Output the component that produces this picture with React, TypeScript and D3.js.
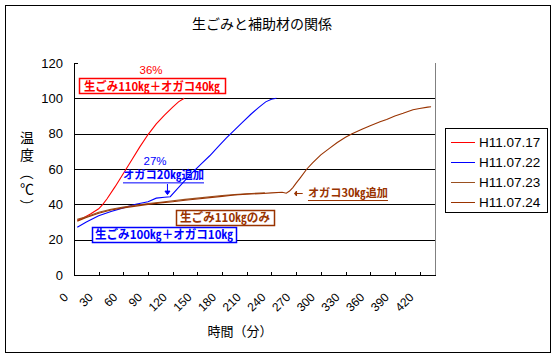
import React from "react";
import * as d3 from "d3";

const seriesNames = ["H11.07.17", "H11.07.22", "H11.07.23", "H11.07.24"];
const seriesColors = ["#FF0000", "#0000FF", "#9A5020", "#993300"];

const red17: [number, number][] = [
  [4, 31], [10, 32], [20, 34.5], [30, 37.5], [35, 40], [40, 43], [50, 50], [60, 57.5],
  [70, 65], [80, 72.5], [90, 79.5], [100, 85.5], [110, 90.5], [120, 95], [127, 98], [134, 100],
];
const blue22: [number, number][] = [
  [4, 27], [15, 30], [30, 33.5], [45, 36], [60, 38], [75, 40], [90, 41.5], [100, 43.5],
  [110, 44], [117, 44.3], [125, 48.5], [135, 53.5], [145, 58.5], [155, 63], [165, 67.5],
  [175, 72.5], [185, 77.5], [195, 82], [205, 86.5], [215, 91], [225, 95], [233, 98],
  [240, 99.5], [246, 100],
];
const brown23: [number, number][] = [
  [4, 31.5], [15, 33], [30, 35.5], [45, 37.2], [60, 38.5], [75, 39.5], [90, 40.5],
  [105, 41.2], [120, 42], [135, 42.8], [150, 43.5], [165, 44.3], [180, 45], [195, 45.5],
  [210, 46], [232, 46.5],
];
const brown24: [number, number][] = [
  [4, 30.5], [15, 32.5], [30, 35], [45, 36.8], [60, 38], [75, 39], [90, 40], [105, 40.8],
  [120, 41.5], [135, 42.3], [150, 43], [165, 43.8], [180, 44.5], [195, 45.3], [210, 45.8],
  [225, 46], [240, 46.5], [253, 46.8], [258, 46.3], [262, 47.5], [266, 49.5], [270, 52],
  [275, 55], [283, 60], [290, 63.5], [300, 68], [310, 71.5], [320, 75], [330, 78],
  [338, 80], [350, 82.5], [360, 84.5], [372, 86.7], [380, 88], [390, 90], [400, 91.5],
  [412, 93.5], [420, 94.2], [430, 95], [434, 95.2],
];
const seriesData = [red17, blue22, brown23, brown24];

const xTicks = d3.range(0, 421, 30);
const yTicks = [0, 20, 40, 60, 80, 100, 120];

const titleText = "生ごみと補助材の関係";
const xTitle = "時間（分）";
const yTitleChars = ["温", "度", "（", "℃", "）"];
const yTitleRotate = [0, 0, 90, 0, 90];
const yTitlePos = [138, 155, 173, 189, 206];

// annotations in data coordinates [minute, temp]
const boxNotes = [
  { text: "生ごみ110㎏＋オガコ40㎏", x: 94.8, y: 107, w: 146, tw: 136, color: "#FF0000" },
  { text: "生ごみ100㎏＋オガコ10㎏", x: 109.4, y: 22.9, w: 144, tw: 138, color: "#0000FF" },
  { text: "生ごみ110㎏のみ", x: 183.5, y: 32.5, w: 98, tw: 90, color: "#993300" },
];
const pctNotes = [
  { text: "36%", x: 93.6, y: 115.8, color: "#FF0000" },
  { text: "27%", x: 98.5, y: 64.3, color: "#0000FF" },
];
const addNotes = [
  { text: "オガコ20㎏追加", x: 108.8, y: 56.4, tw: 81, color: "#0000FF" },
  { text: "オガコ30㎏追加", x: 333, y: 46.4, tw: 80, color: "#993300" },
];

export default function App() {
  const W = 556, H = 357;
  const x = d3.scaleLinear().domain([0, 440]).range([74, 436]);
  const y = d3.scaleLinear().domain([0, 120]).range([275, 63]);
  const line = d3.line<[number, number]>().x((d) => x(d[0])).y((d) => y(d[1]));
  const latin = "'Liberation Sans', Arial, 'Noto Sans CJK JP', sans-serif";
  const jp = "'Noto Sans CJK JP', 'Liberation Sans', sans-serif";

  return (
    <svg width={W} height={H} style={{ position: "absolute", left: 0, top: 0, background: "#fff" }}>
      <rect x={0} y={0} width={W} height={H} fill="#fff" />
      <rect x={5.5} y={5.5} width={545} height={347} fill="#fff" stroke="#000" strokeWidth={1} />
      <text x={262} y={29} textAnchor="middle" fontFamily={jp} fontSize={14}>{titleText}</text>

      {/* gridlines */}
      {yTicks.filter((t) => t > 0 && t < 120).map((t) => (
        <line key={"g" + t} x1={x(0)} x2={436} y1={Math.round(y(t)) + 0.5} y2={Math.round(y(t)) + 0.5} stroke="#000" />
      ))}
      {/* plot right border */}
      <line x1={435.5} x2={435.5} y1={y(120)} y2={y(0)} stroke="#808080" />

      {/* series */}
      {seriesData.map((s, i) => (
        <path key={"s" + i} d={line(s) || ""} fill="none" stroke={seriesColors[i]} strokeWidth={1.1} />
      ))}

      {/* axes */}
      <line x1={74.5} x2={74.5} y1={y(120)} y2={y(0) + 0.5} stroke="#000" />
      <line x1={74} x2={436} y1={275.5} y2={275.5} stroke="#000" />
      {yTicks.map((t) => (
        <g key={"yt" + t}>
          <line x1={74} x2={78} y1={Math.round(y(t)) + 0.5} y2={Math.round(y(t)) + 0.5} stroke="#000" />
          <text x={63} y={y(t)} dy="0.35em" textAnchor="end" fontFamily={latin} fontSize={13}>{t}</text>
        </g>
      ))}
      {xTicks.map((t) => (
        <g key={"xt" + t}>
          <line x1={Math.round(x(t)) + 0.5} x2={Math.round(x(t)) + 0.5} y1={272} y2={275} stroke="#000" />
          <text transform={`translate(${x(t) - 8},${295}) rotate(-45)`} dy="0.35em" textAnchor="end" fontFamily={latin} fontSize={12}>{t}</text>
        </g>
      ))}
      <text x={240} y={331} dy="0.35em" textAnchor="middle" fontFamily={jp} fontSize={13}>{xTitle}</text>
      {yTitleChars.map((c, i) => (
        <text key={"yc" + i} transform={`translate(27,${yTitlePos[i]}) rotate(${yTitleRotate[i]})`} dy="0.35em" textAnchor="middle" fontFamily={jp} fontSize={14}>{c}</text>
      ))}

      {/* annotations */}
      {pctNotes.map((n, i) => (
        <text key={"p" + i} x={x(n.x)} y={y(n.y)} dy="0.35em" textAnchor="middle" fontFamily={latin} fontSize={11.5} fill={n.color}>{n.text}</text>
      ))}
      {boxNotes.map((n, i) => (
        <g key={"b" + i}>
          <rect x={Math.round(x(n.x) - n.w / 2) + 0.5} y={Math.round(y(n.y) - 8) + 0.5} width={n.w} height={15} fill="#fff" stroke={n.color} strokeWidth={1.5} />
          <text x={x(n.x)} y={y(n.y) + 0.5} dy="0.35em" textAnchor="middle" fontFamily={jp} fontWeight="bold" fontSize={12} fill={n.color} textLength={n.tw} lengthAdjust="spacingAndGlyphs">{n.text}</text>
        </g>
      ))}
      {addNotes.map((n, i) => (
        <g key={"a" + i}>
          <text x={x(n.x)} y={y(n.y)} dy="0.35em" textAnchor="middle" fontFamily={jp} fontWeight="bold" fontSize={11.5} fill={n.color} textLength={n.tw} lengthAdjust="spacingAndGlyphs">{n.text}</text>
          <line x1={x(n.x) - n.tw / 2} x2={x(n.x) + n.tw / 2} y1={y(n.y) + 7.5} y2={y(n.y) + 7.5} stroke={n.color} strokeWidth={1} />
        </g>
      ))}
      {/* arrow down (blue) */}
      <g stroke="#0000FF" fill="#0000FF">
        <line x1={x(113) + 0.5} x2={x(113) + 0.5} y1={y(51.5)} y2={y(46)} />
        <path d={`M${x(113) - 2},${y(47.5)} L${x(113) + 3},${y(47.5)} L${x(113) + 0.5},${y(45.5)} Z`} />
      </g>
      {/* arrow left (brown) */}
      <g stroke="#993300" fill="#993300">
        <line x1={x(269)} x2={x(278)} y1={y(46.4) + 0.5} y2={y(46.4) + 0.5} />
        <path d={`M${x(268)},${y(46.4) + 0.5} L${x(270.5)},${y(46.4) - 2} L${x(270.5)},${y(46.4) + 3} Z`} />
      </g>

      {/* legend */}
      <rect x={445.5} y={128.5} width={102} height={84} fill="#fff" stroke="#000" />
      {seriesNames.map((nm, i) => (
        <g key={"l" + i}>
          <line x1={451} x2={475} y1={142.5 + i * 20} y2={142.5 + i * 20} stroke={seriesColors[i]} />
          <text x={479} y={142.5 + i * 20} dy="0.35em" fontFamily={latin} fontSize={13.5}>{nm}</text>
        </g>
      ))}
    </svg>
  );
}
